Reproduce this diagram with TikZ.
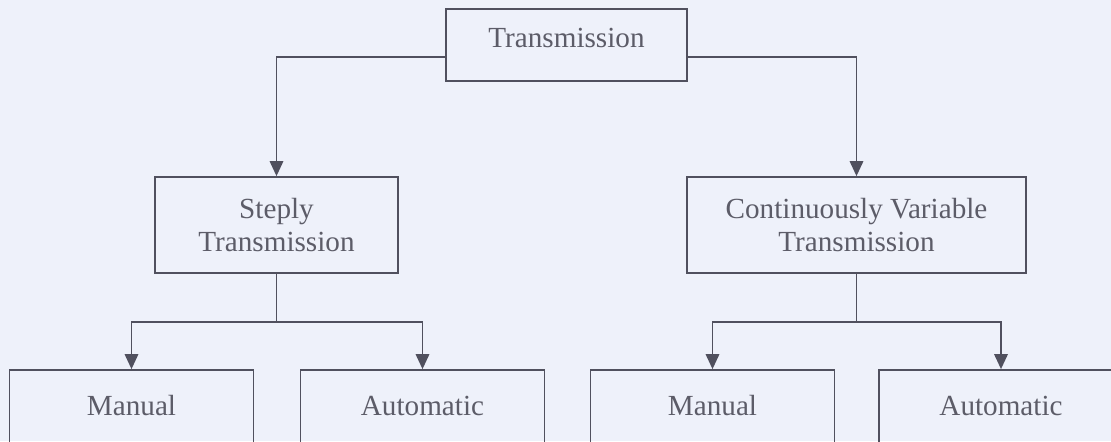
\documentclass[tikz,border=0pt]{standalone}
\usepackage{fontspec}
\setmainfont{Liberation Serif}
\usetikzlibrary{arrows.meta}

\definecolor{bgpaper}{RGB}{238,241,250}
\definecolor{boxline}{RGB}{80,80,94}
\definecolor{boxtext}{RGB}{92,92,104}

\tikzset{
  box/.style={draw=boxline, line width=1pt, text=boxtext, align=center,
    font=\fontsize{16.6}{19.3}\selectfont, inner sep=0pt},
  conn/.style={draw=boxline, line width=1pt, -{Triangle[width=0.27cm,length=0.3cm]}},
  bus/.style={draw=boxline, line width=1pt}
}

\begin{document}
\begin{tikzpicture}

% Background and frame
\fill[bgpaper] (0, 0) rectangle (22.22, 8.82);
\useasboundingbox (0, 0) rectangle (22.22, 8.82);
\clip (0, 0) rectangle (22.22, 8.82);

% Top level
\node[box, minimum width=4.82cm, minimum height=1.44cm, text height=0.45cm, text depth=0.37cm]
  (trans) at (11.33, 7.92) {Transmission};

% Second level
\node[box, minimum width=4.86cm, minimum height=1.92cm] (steply) at (5.53, 4.32)
  {Steply\\Transmission};
\node[box, minimum width=6.78cm, minimum height=1.92cm] (cvt) at (17.13, 4.32)
  {Continuously Variable\\Transmission};

% Third level (cut off at the lower edge)
\tikzset{leaf/.style={box, minimum width=4.88cm, minimum height=1.9cm, text height=0.45cm, text depth=0.55cm}}
\node[leaf] (stepman) at (2.63, 0.47) {Manual};
\node[leaf] (stepauto) at (8.45, 0.47) {Automatic};
\node[leaf] (cvtman) at (14.25, 0.47) {Manual};
\node[leaf] (cvtauto) at (20.02, 0.47) {Automatic};

% Branches from the top
\draw[conn] ([yshift=-0.24cm]trans.west) -| (steply.north);
\draw[conn] ([yshift=-0.24cm]trans.east) -| (cvt.north);

% Branches below Steply
\coordinate (stepbus) at (5.53, 2.38);
\draw[bus] (steply.south) -- (stepbus);
\draw[conn] (stepbus) -| (stepman.north);
\draw[conn] (stepbus) -| (stepauto.north);

% Branches below CVT
\coordinate (cvtbus) at (17.13, 2.38);
\draw[bus] (cvt.south) -- (cvtbus);
\draw[conn] (cvtbus) -| (cvtman.north);
\draw[conn] (cvtbus) -| (cvtauto.north);

\end{tikzpicture}
\end{document}
